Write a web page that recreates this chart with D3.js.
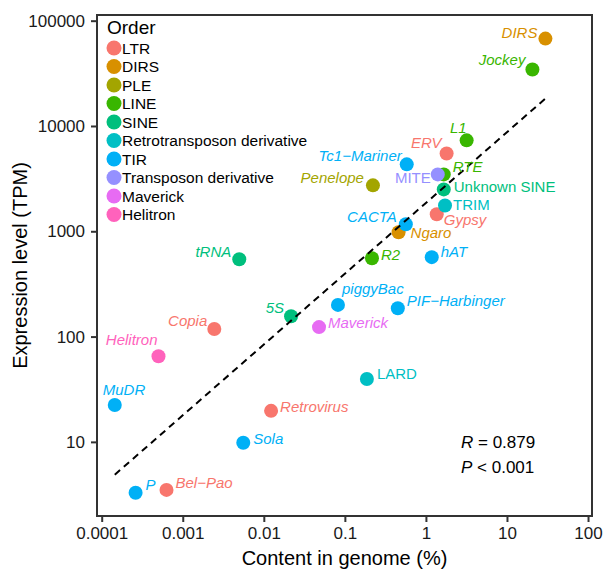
<!DOCTYPE html><html lang="en">
<head>
  <meta charset="UTF-8">
  <title>TE expression vs genome content</title>
  <script src="https://d3js.org/d3.v7.min.js"></script>
  <style>
    body {
      margin: 0;
      background: white;
      font-family: "Liberation Sans", Arial, sans-serif;
    }
    .tick text {
      font-size: 17px;
      fill: #1a1a1a;
    }
    .axis-title {
      font-size: 20px;
      fill: black;
    }
    .pt-label {
      font-size: 15px;
    }
    .legend text {
      font-size: 15.5px;
      fill: black;
    }
  </style>
</head>
<body>
<svg width="603" height="570"></svg>
<script>
// order levels + ggplot hue colours
const orderLevels = ["LTR", "DIRS", "PLE", "LINE", "SINE", "Retrotransposon derivative",
  "TIR", "Transposon derivative", "Maverick", "Helitron"];
const orderColors = ["#F8766D", "#D89000", "#A3A500", "#39B600", "#00BF7D", "#00BFC4",
  "#00B0F6", "#9590FF", "#E76BF3", "#FF62BC"];

// superfamilies
const names = ["DIRS", "Jockey", "L1", "ERV", "Tc1\u2212Mariner", "RTE", "MITE", "Unknown SINE",
  "Gypsy", "TRIM", "Penelope", "Ngaro", "CACTA", "R2", "hAT", "tRNA", "piggyBac",
  "PIF\u2212Harbinger", "5S", "Maverick", "Copia", "Helitron", "LARD", "MuDR", "Retrovirus",
  "Sola", "P", "Bel\u2212Pao"];
const orders = ["DIRS", "LINE", "LINE", "LTR", "TIR", "LINE", "Transposon derivative", "SINE",
  "LTR", "Retrotransposon derivative", "PLE", "DIRS", "TIR", "LINE", "TIR", "SINE", "TIR",
  "TIR", "SINE", "Maverick", "LTR", "Helitron", "Retrotransposon derivative", "TIR", "LTR",
  "TIR", "TIR", "LTR"];
// content in genome (%)
const content = [29.8, 20.6, 3.18, 1.80, 0.58, 1.66, 1.40, 1.66,
  1.36, 1.72, 0.222, 0.46, 0.565, 0.216, 1.18, 0.00498, 0.0822,
  0.45, 0.0217, 0.048, 0.00245, 0.000502, 0.187, 0.000145, 0.0123,
  0.00558, 0.000262, 0.00063];
// expression level (TPM)
const expression = [67600, 34400, 7300, 5480, 4320, 3470, 3470, 2500,
  1450, 1760, 2730, 980, 1165, 555, 568, 543, 200,
  186, 156, 123, 118, 65, 39.5, 22.4, 19.7,
  9.8, 3.29, 3.5];

const uprightLabels = ["MITE", "Unknown SINE", "TRIM", "LARD"];

const xTicks = [0.0001, 0.001, 0.01, 0.1, 1, 10, 100];
const yTicks = [10, 100, 1000, 10000, 100000];
const statLines = [["R", " = 0.879"], ["P", " < 0.001"]];

// label placement, like ggrepel left them: [dx, dy, anchor]
const labelPos = {
  "DIRS": [-8, -1, "end"], "Jockey": [-7, -4, "end"], "L1": [0, -7, "end"],
  "ERV": [-5, -5, "end"], "Tc1\u2212Mariner": [-5, -3, "end"], "RTE": [9, -2, "start"],
  "MITE": [-7, 9, "end"], "Unknown SINE": [10, 3, "start"], "TRIM": [8, 5, "start"],
  "Gypsy": [7, 11, "start"], "Penelope": [-9, -2, "end"], "CACTA": [-9, -2, "end"],
  "Ngaro": [12, 6, "start"], "R2": [9, 2, "start"], "hAT": [9, 0, "start"],
  "tRNA": [-8, -2, "end"], "piggyBac": [4, -11, "start"], "PIF\u2212Harbinger": [9, -2, "start"],
  "5S": [-7, -3, "end"], "Maverick": [9, 1, "start"], "Copia": [-7, -3, "end"],
  "Helitron": [-1, -11, "end"], "LARD": [10, 0, "start"], "MuDR": [-12, -10, "start"],
  "Retrovirus": [9, 1, "start"], "Sola": [10, 1, "start"], "P": [10, -3, "start"],
  "Bel\u2212Pao": [9, -2, "start"]
};

const data = names.map((n, i) => ({ name: n, order: orders[i], x: content[i], y: expression[i] }));

const pLeft = 97, pRight = 592, pTop = 15, pBottom = 516;
const svg = d3.select("svg");

const x = d3.scaleLog().domain([Math.pow(10, -4.058), Math.pow(10, 2.049)]).range([pLeft, pRight]);
const y = d3.scaleLog().domain([Math.pow(10, 0.296), Math.pow(10, 5.054)]).range([pBottom, pTop]);
const color = d3.scaleOrdinal().domain(orderLevels).range(orderColors);

// axes
const xAxis = svg.append("g")
  .attr("transform", `translate(0,${pBottom})`)
  .call(d3.axisBottom(x).tickValues(xTicks).tickFormat(d => String(d)).tickSize(6).tickPadding(5));
const yAxis = svg.append("g")
  .attr("transform", `translate(${pLeft},0)`)
  .call(d3.axisLeft(y).tickValues(yTicks).tickFormat(d => String(d)).tickSize(6).tickPadding(6));
[xAxis, yAxis].forEach(a => {
  a.select(".domain").remove();
  a.selectAll(".tick line").attr("stroke", "#333").attr("stroke-width", 2);
  a.attr("font-family", null).attr("font-size", null);
});

// panel border
svg.append("rect")
  .attr("x", pLeft).attr("y", pTop)
  .attr("width", pRight - pLeft).attr("height", pBottom - pTop)
  .attr("fill", "none").attr("stroke", "#333").attr("stroke-width", 2);

// points
svg.append("g").selectAll("circle")
  .data(data)
  .join("circle")
  .attr("cx", d => x(d.x))
  .attr("cy", d => y(d.y))
  .attr("r", 7)
  .attr("fill", d => color(d.order));

// linear fit in log-log space
const lx = data.map(d => Math.log10(d.x)), ly = data.map(d => Math.log10(d.y));
const mx = d3.mean(lx), my = d3.mean(ly);
const slope = d3.sum(lx, (v, i) => (v - mx) * (ly[i] - my)) / d3.sum(lx, v => (v - mx) * (v - mx));
const icpt = my - slope * mx;
const [x0, x1] = d3.extent(lx);
svg.append("line")
  .attr("x1", x(Math.pow(10, x0))).attr("y1", y(Math.pow(10, icpt + slope * x0)))
  .attr("x2", x(Math.pow(10, x1))).attr("y2", y(Math.pow(10, icpt + slope * x1)))
  .attr("stroke", "black").attr("stroke-width", 2)
  .attr("stroke-dasharray", "7,5");

// point labels
svg.append("g").selectAll("text")
  .data(data)
  .join("text")
  .attr("class", "pt-label")
  .attr("x", d => x(d.x) + labelPos[d.name][0])
  .attr("y", d => y(d.y) + labelPos[d.name][1])
  .attr("text-anchor", d => labelPos[d.name][2])
  .attr("font-style", d => uprightLabels.includes(d.name) ? "normal" : "italic")
  .attr("fill", d => color(d.order))
  .text(d => d.name);

// stats
statLines.forEach((s, i) => {
  const t = svg.append("text")
    .attr("x", 461).attr("y", 448 + i * 25)
    .attr("font-size", 17);
  t.append("tspan").attr("font-style", "italic").text(s[0]);
  t.append("tspan").text(s[1]);
});

// legend
const legend = svg.append("g").attr("class", "legend");
legend.append("text").attr("x", 107).attr("y", 34)
  .style("font-size", "19px").text("Order");
const items = legend.selectAll("g.item")
  .data(orderLevels)
  .join("g")
  .attr("class", "item")
  .attr("transform", (d, i) => `translate(114,${48 + i * 18.5})`);
items.append("circle").attr("r", 7.5).attr("fill", d => color(d));
items.append("text").attr("x", 8).attr("dy", "0.36em").text(d => d);

// axis titles
svg.append("text")
  .attr("class", "axis-title")
  .attr("x", (pLeft + pRight) / 2).attr("y", 565)
  .attr("text-anchor", "middle")
  .text("Content in genome (%)");
svg.append("text")
  .attr("class", "axis-title")
  .attr("transform", `translate(27,${(pTop + pBottom) / 2}) rotate(-90)`)
  .attr("text-anchor", "middle")
  .text("Expression level (TPM)");
</script>
</body>
</html>
